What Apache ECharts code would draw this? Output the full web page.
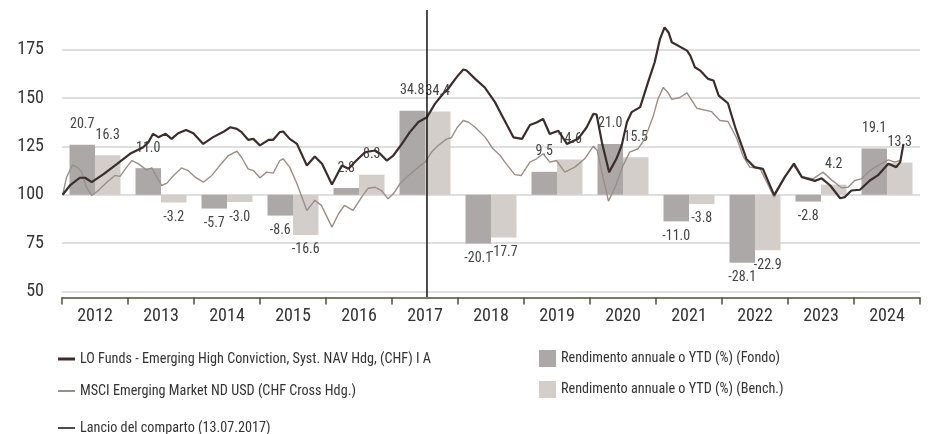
<!DOCTYPE html>
<html>
<head>
<meta charset="utf-8">
<script src="https://cdn.jsdelivr.net/npm/echarts@6/dist/echarts.min.js"></script>
<style>
html,body{margin:0;padding:0;background:#fff;}
#chart{width:930px;height:434px;}
</style>
</head>
<body>
<div id="chart"></div>
<script>
// ---- data ----
const years = ['2012','2013','2014','2015','2016','2017','2018','2019','2020','2021','2022','2023','2024'];
const fundReturns  = [20.7, 11.0, -5.7, -8.6, 2.8, 34.8, -20.1, 9.5, 21.0, -11.0, -28.1, -2.8, 19.1];
const benchReturns = [16.3, -3.2, -3.0, -16.6, 8.3, 34.4, -17.7, 14.6, 15.5, -3.8, -22.9, 4.2, 13.3];
const yTicks = [50, 75, 100, 125, 150, 175];
const launchDate = 2017.53; // 13.07.2017

const fundT = [2012.01,2012.12,2012.27,2012.35,2012.45,2012.63,2012.83,2013.03,2013.23,2013.31,2013.38,2013.46,2013.57,2013.66,2013.76,2013.88,2013.99,2014.14,2014.29,2014.44,2014.55,2014.65,2014.72,2014.82,2014.90,2015.00,2015.13,2015.20,2015.30,2015.35,2015.45,2015.56,2015.71,2015.83,2015.94,2016.09,2016.24,2016.34,2016.46,2016.59,2016.74,2016.82,2016.92,2017.02,2017.15,2017.27,2017.40,2017.53,2017.65,2017.78,2017.85,2017.98,2018.08,2018.13,2018.26,2018.41,2018.56,2018.64,2018.84,2018.97,2019.09,2019.19,2019.29,2019.39,2019.52,2019.65,2019.82,2019.95,2020.05,2020.10,2020.18,2020.29,2020.40,2020.48,2020.56,2020.63,2020.76,2020.88,2020.98,2021.06,2021.13,2021.19,2021.24,2021.47,2021.52,2021.59,2021.67,2021.79,2021.87,2021.95,2022.09,2022.20,2022.37,2022.49,2022.62,2022.79,2022.95,2023.09,2023.21,2023.41,2023.51,2023.64,2023.79,2023.86,2023.96,2024.09,2024.24,2024.36,2024.52,2024.64,2024.70,2024.75];
const fundV = [100,104.8,108.8,108.8,106.5,110.7,115.9,121.2,124.6,127.2,131.5,129.8,131.5,128.9,131.8,133.5,131.8,126.3,129.8,132.4,134.9,134.1,132.4,128.4,128.9,125.5,128.4,128.4,132.4,132.7,128.9,126.3,115.1,119.8,116.0,105.3,115.1,113.4,117.7,122.0,122.9,121.2,117.7,120.3,126.3,132.4,137.6,140.1,147.0,152.5,154.8,160.8,164.8,164.2,159.9,155.3,147.9,142.7,129.7,128.9,136.1,137.4,139.2,131.4,133.1,126.3,128.9,134.9,141.8,141.5,127.2,111.7,118.6,125.5,137.6,142.7,145.3,158.2,168.5,180.5,186.5,183.9,178.8,174.5,171.9,165.9,164.2,159.9,159.1,151.3,147.3,134.9,118.5,114.3,113.4,99.8,109.1,116.1,109.1,107.2,108.5,104.8,98.2,98.8,102.2,102.6,107.4,110.0,116.0,114.3,116.9,126.3];

const benchT = [2012.01,2012.07,2012.16,2012.23,2012.30,2012.37,2012.45,2012.55,2012.68,2012.80,2012.88,2012.98,2013.06,2013.16,2013.28,2013.36,2013.43,2013.51,2013.59,2013.69,2013.81,2013.91,2014.02,2014.14,2014.27,2014.39,2014.52,2014.65,2014.72,2014.82,2014.90,2015.00,2015.10,2015.20,2015.30,2015.35,2015.45,2015.56,2015.71,2015.83,2015.93,2016.09,2016.19,2016.28,2016.41,2016.54,2016.64,2016.74,2016.84,2016.94,2017.02,2017.12,2017.25,2017.40,2017.50,2017.60,2017.70,2017.83,2017.90,2017.99,2018.08,2018.16,2018.26,2018.41,2018.53,2018.64,2018.71,2018.86,2018.96,2019.09,2019.19,2019.29,2019.39,2019.49,2019.62,2019.77,2019.92,2020.05,2020.11,2020.18,2020.28,2020.38,2020.50,2020.60,2020.73,2020.83,2020.96,2021.03,2021.11,2021.18,2021.24,2021.36,2021.47,2021.62,2021.84,2021.97,2022.09,2022.22,2022.32,2022.42,2022.58,2022.79,2022.95,2023.08,2023.21,2023.38,2023.53,2023.66,2023.81,2023.91,2024.01,2024.11,2024.24,2024.36,2024.52,2024.62,2024.70];
const benchV = [100,109.1,115.5,114.3,111.7,103.9,99.6,102.2,106.5,110.0,109.5,114.3,117.7,116.0,112.9,113.9,109.5,104.8,106.0,110.0,113.9,112.5,109.1,106.5,110.0,115.1,120.3,122.5,119.4,113.4,112.5,108.8,111.7,111.2,117.7,118.6,114.3,105.7,91.9,97.1,94.5,83.3,90.2,94.5,91.9,98.8,103.4,103.9,102.2,97.9,100.5,105.7,110.0,114.3,116.9,122.1,125.5,128.9,129.5,134.9,138.4,137.5,134.9,129.8,123.8,120.3,116.9,110.4,110.0,116.9,118.6,121.2,116.9,117.7,111.7,114.3,118.6,125.1,122.9,111.7,96.7,103.9,115.1,122.0,123.8,128.9,140.9,149.5,155.5,152.9,149.3,150.3,152.7,144.7,143.0,138.4,137.9,129.5,120.0,114.3,113.4,98.8,109.1,115.4,109.4,108.2,111.7,107.7,103.6,103.9,107.4,108.2,112.5,115.1,118.0,116.9,117.7];

const names = {
  fund: 'LO Funds - Emerging High Conviction, Syst. NAV Hdg, (CHF) I A',
  bench: 'MSCI Emerging Market ND USD (CHF Cross Hdg.)',
  launch: 'Lancio del comparto (13.07.2017)',
  barFund: 'Rendimento annuale o YTD (%) (Fondo)',
  barBench: 'Rendimento annuale o YTD (%) (Bench.)'
};

// ---- chart ----
const FONT = "'Liberation Sans Narrow','Arial Narrow','Roboto Condensed',sans-serif";
const zip = (t, v) => t.map((x, i) => [x, v[i]]);
const barData = arr => arr.map(v => ({
  value: v,
  label: { position: v >= 0 ? 'top' : 'bottom', distance: v >= 0 ? 13 : 8 }
}));
const barLabel = {
  show: true, fontFamily: FONT, fontSize: 14, color: '#444',
  formatter: p => p.value.toFixed(1)
};

function legendAt(left, top, name, w, h) {
  return {
    left: left, top: top, orient: 'vertical', data: [name],
    itemWidth: w, itemHeight: h, icon: 'rect', itemGap: 0, padding: 0,
    selectedMode: false,
    textStyle: { fontFamily: FONT, fontSize: 14.2, color: '#333', lineHeight: 18 }
  };
}

const chart = echarts.init(document.getElementById('chart'), null, { renderer: 'canvas' });
chart.setOption({
  animation: false,
  backgroundColor: '#fff',
  grid: { left: 62, right: 10, top: 11, bottom: 142.5 },
  legend: [
    legendAt(58, 350, names.fund, 17, 3),
    legendAt(58, 382, names.bench, 17, 2),
    legendAt(58, 419, names.launch, 17, 1.5),
    legendAt(539, 349.5, names.barFund, 17, 17),
    legendAt(539, 380.5, names.barBench, 17, 17)
  ],
  xAxis: [
    {
      type: 'category', data: years, position: 'bottom', offset: 6, z: 10,
      axisLine: { show: true, onZero: false, lineStyle: { color: '#4f4f38', width: 1.5 } },
      axisTick: { show: true, interval: 0, inside: false, length: 7, lineStyle: { color: '#4f4f38', width: 1.5 } },
      axisLabel: { fontFamily: FONT, fontSize: 18, color: '#333', margin: 10 }
    },
    { type: 'value', min: 2012, max: 2025, show: false, position: 'top', axisLine: { onZero: false } }
  ],
  yAxis: [
    {
      type: 'value', min: 50, max: 195, interval: 25,
      axisLine: { show: false }, axisTick: { show: false },
      axisLabel: {
        fontFamily: FONT, fontSize: 18, color: '#333', margin: 18,
        padding: [0, 0, 6, 0],
        formatter: v => (yTicks.indexOf(v) >= 0 ? String(v) : '')
      },
      splitLine: { show: true, showMaxLine: false, lineStyle: { color: '#d4d4d4', width: 1.5 } }
    },
    { type: 'value', min: -40, max: 76, show: false, splitLine: { show: false } }
  ],
  series: [
    {
      name: names.barFund, type: 'bar', xAxisIndex: 0, yAxisIndex: 1,
      data: barData(fundReturns), barWidth: 25.5, barGap: '0%',
      itemStyle: { color: '#aca8a7' }, label: barLabel, z: 1
    },
    {
      name: names.barBench, type: 'bar', xAxisIndex: 0, yAxisIndex: 1,
      data: barData(benchReturns), barWidth: 25.5, barGap: '0%',
      itemStyle: { color: '#d3cec9' }, label: barLabel, z: 1
    },
    {
      name: names.bench, type: 'line', xAxisIndex: 1, yAxisIndex: 0,
      data: zip(benchT, benchV), showSymbol: false, symbol: 'none',
      lineStyle: { color: '#9b8e87', width: 1.4 }, itemStyle: { color: '#9b8e87' }, z: 3
    },
    {
      name: names.fund, type: 'line', xAxisIndex: 1, yAxisIndex: 0,
      data: zip(fundT, fundV), showSymbol: false, symbol: 'none',
      lineStyle: { color: '#3a2d2b', width: 2.2 }, itemStyle: { color: '#3a2d2b' }, z: 4
    },
    {
      name: names.launch, type: 'line', xAxisIndex: 1, yAxisIndex: 0,
      data: [[launchDate, 47.2], [launchDate, 195.5]], showSymbol: false, symbol: 'none',
      clip: false,
      itemStyle: { color: '#111' }, lineStyle: { color: '#111', width: 1.5 }, z: 5
    }
  ]
});
</script>
</body>
</html>
